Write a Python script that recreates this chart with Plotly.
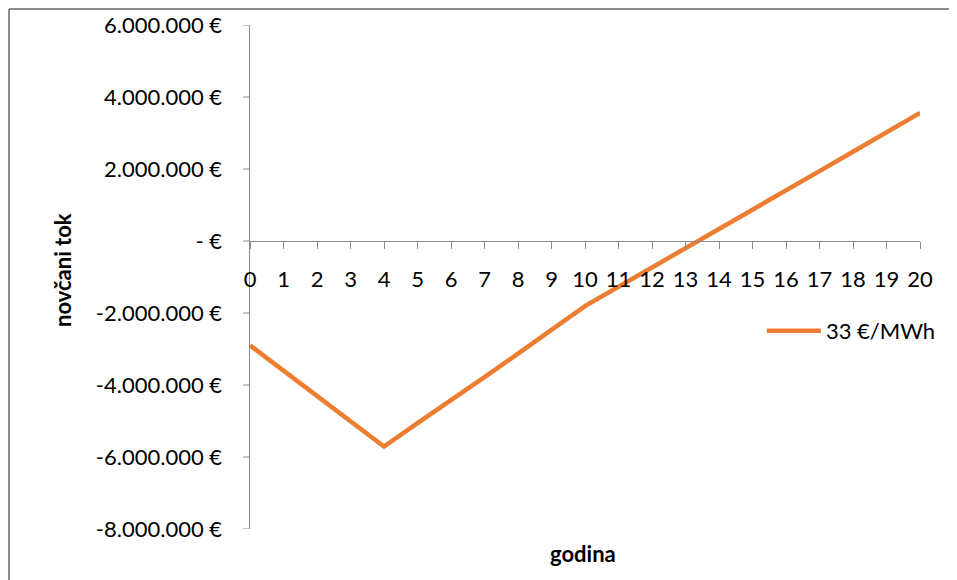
import plotly.graph_objects as go

# data
godina = list(range(0, 21))
novcani_tok = [-2900000, -3600000, -4300000, -5000000, -5710000,
               -5060000, -4430000, -3780000, -3130000, -2470000,
               -1810000, -1270000, -740000, -200000, 330000,
               870000, 1400000, 1940000, 2480000, 3020000, 3560000]
serija = "33 €/MWh"

y_ticks = [6000000, 4000000, 2000000, 0, -2000000, -4000000, -6000000, -8000000]
y_labels = ["6.000.000 €", "4.000.000 €", "2.000.000 €", "- €",
            "-2.000.000 €", "-4.000.000 €", "-6.000.000 €", "-8.000.000 €"]

orange = "#ED7D31"
axis_grey = "#8c8c8c"
font = "Lato, Calibri, sans-serif"
gap = "\u00a0" * 4

fig = go.Figure()
fig.add_trace(go.Scatter(x=godina, y=novcani_tok, mode="lines", name=serija,
                         line=dict(color=orange, width=4.5)))

y_min, y_max = -8000000, 6000000
zero_pos = (0 - y_min) / (y_max - y_min)

# chart area border (only top and left edges visible)
shapes = [
    dict(type="line", xref="paper", yref="paper",
         x0=(9 - 250) / 670, x1=(960 - 250) / 670,
         y0=1 + 16 / 504, y1=1 + 16 / 504,
         line=dict(color=axis_grey, width=2)),
    dict(type="line", xref="paper", yref="paper",
         x0=(9 - 250) / 670, x1=(9 - 250) / 670,
         y0=1 + 16 / 504, y1=-60 / 504,
         line=dict(color=axis_grey, width=2)),
]
# y tick marks (plotly drops them when automargin is off here)
for v in y_ticks:
    shapes.append(dict(type="line", xref="paper", yref="y",
                       x0=-7 / 670, x1=0, y0=v, y1=v,
                       line=dict(color=axis_grey, width=1)))

# page body has an 8px margin, so the figure is shifted by 8px
fig.update_layout(
    width=949, height=572,
    margin=dict(l=242, r=37, t=17, b=51),
    paper_bgcolor="white", plot_bgcolor="white",
    font=dict(family=font, size=22, color="black"),
    showlegend=True,
    legend=dict(x=0.764, y=0.393, xanchor="left", yanchor="middle",
                bgcolor="rgba(0,0,0,0)", itemwidth=54,
                font=dict(family=font, size=22)),
    xaxis=dict(range=[0, 20], tickmode="array", tickvals=godina,
               ticktext=[str(g) for g in godina],
               anchor="free", position=zero_pos, automargin=False,
               showline=True, linecolor=axis_grey, linewidth=1,
               ticks="outside", ticklen=7, tickcolor=axis_grey,
               ticklabelstandoff=12,
               showgrid=False, zeroline=False,
               tickfont=dict(family=font, size=22)),
    yaxis=dict(range=[y_min, y_max], tickmode="array", tickvals=y_ticks,
               ticktext=[t + gap for t in y_labels], automargin=False,
               showline=True, linecolor=axis_grey, linewidth=1,
               ticks="", showgrid=False, zeroline=False,
               tickfont=dict(family=font, size=22)),
    annotations=[
        dict(text="<b>godina</b>", xref="paper", yref="paper",
             x=(583 - 250) / 670, y=(529 - 553) / 504,
             xanchor="center", yanchor="middle",
             showarrow=False, font=dict(family=font, size=22)),
        dict(text="<b>novčani tok</b>", xref="paper", yref="paper",
             x=(62 - 250) / 670, y=(529 - 270) / 504, textangle=-90,
             xanchor="center", yanchor="middle",
             showarrow=False, font=dict(family=font, size=22)),
    ],
    shapes=shapes,
)

fig.write_html("out.html")
